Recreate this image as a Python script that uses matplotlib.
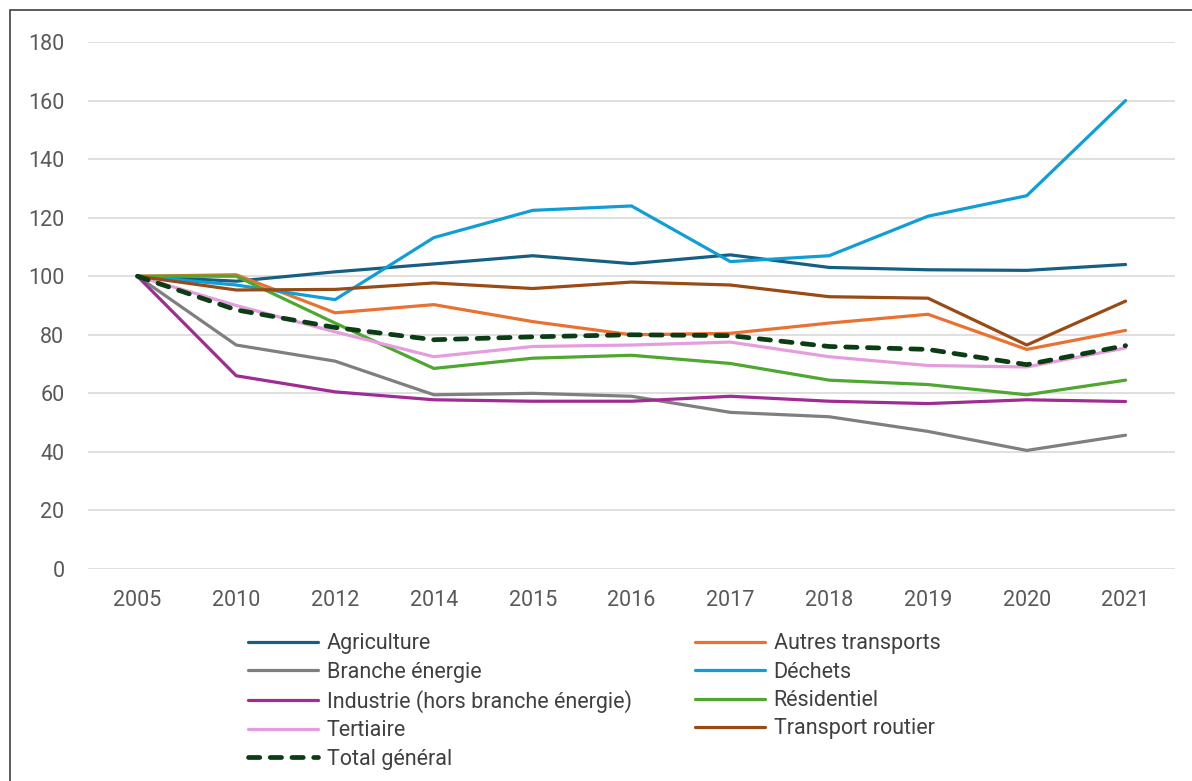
import matplotlib
matplotlib.use("Agg")
import matplotlib.pyplot as plt
from matplotlib.patches import Rectangle

years = ["2005", "2010", "2012", "2014", "2015", "2016", "2017", "2018", "2019", "2020", "2021"]

agriculture = [100, 98.3, 101.5, 104.2, 107.0, 104.3, 107.3, 103.0, 102.2, 102.0, 104.0]
autres_transports = [100, 100.5, 87.5, 90.3, 84.5, 80.0, 80.5, 84.0, 87.0, 75.0, 81.5]
branche_energie = [100, 76.5, 71.0, 59.5, 60.0, 59.0, 53.5, 52.0, 47.0, 40.5, 45.7]
dechets = [100, 97.0, 92.0, 113.2, 122.5, 124.0, 105.0, 107.0, 120.5, 127.5, 160.0]
industrie = [100, 66.0, 60.5, 57.8, 57.3, 57.3, 59.0, 57.3, 56.5, 57.8, 57.2]
residentiel = [100, 100.0, 84.0, 68.5, 72.0, 73.0, 70.2, 64.5, 63.0, 59.5, 64.5]
tertiaire = [100, 90.0, 81.0, 72.5, 76.0, 76.5, 77.5, 72.5, 69.5, 69.0, 75.5]
transport_routier = [100, 95.3, 95.5, 97.7, 95.8, 98.0, 97.0, 93.0, 92.5, 76.5, 91.5]
total = [100, 88.5, 82.5, 78.3, 79.3, 80.0, 79.7, 76.0, 75.0, 69.8, 76.3]

names = ["Agriculture", "Autres transports", "Branche énergie", "Déchets",
         "Industrie (hors branche énergie)", "Résidentiel", "Tertiaire",
         "Transport routier", "Total général"]
series = [agriculture, autres_transports, branche_energie, dechets, industrie,
          residentiel, tertiaire, transport_routier, total]
colors = ["#156082", "#E97132", "#7F7F7F", "#0F9ED5", "#A02B93", "#4EA72E",
          "#E59EDD", "#9A4A14", "#0B3D14"]

plt.rcParams['font.family'] = ['Roboto', 'DejaVu Sans']

W, H = 1192, 781
fig = plt.figure(figsize=(W / 100, H / 100), dpi=100)
ax = fig.add_axes([88 / W, 1 - 569 / H, (1175 - 88) / W, (569 - 42) / H])

x = list(range(len(years)))
handles = []
for name, vals, c in zip(names, series, colors):
    if name == "Total général":
        ln, = ax.plot(x, vals, color=c, lw=3.4, linestyle=(0, (2.4, 2.2)),
                      dash_capstyle='round', dash_joinstyle='round',
                      label=name, zorder=5)
    else:
        ln, = ax.plot(x, vals, color=c, lw=2.3, solid_joinstyle='round',
                      solid_capstyle='round', label=name, zorder=3)
    handles.append(ln)

ax.set_xlim(-0.5, len(years) - 0.5)
ax.set_ylim(0, 180)
ax.set_yticks(range(0, 181, 20))
ax.set_xticks(x)
ax.set_xticklabels(years)
ax.grid(axis='y', color='#D9D9D9', lw=1.2)
ax.set_axisbelow(True)
for s in ax.spines.values():
    s.set_visible(False)
ax.tick_params(axis='both', length=0, labelsize=15.5, colors='#595959')
ax.tick_params(axis='x', pad=15)
ax.tick_params(axis='y', pad=17)

legfont = ['Roboto', 'DejaVu Sans']
col1 = [handles[i] for i in (0, 2, 4, 6, 8)]
col2 = [handles[i] for i in (1, 3, 5, 7)]
kw = dict(frameon=False, borderpad=0, borderaxespad=0, handlelength=3.25,
          handletextpad=0.4, labelspacing=0.34,
          prop={'family': legfont, 'size': 15.5},
          labelcolor='#404040', loc='upper left')
l1 = fig.legend(col1, [h.get_label() for h in col1],
                bbox_to_anchor=(248 / W, 1 - 633.5 / H), **kw)
l2 = fig.legend(col2, [h.get_label() for h in col2],
                bbox_to_anchor=(695 / W, 1 - 633.5 / H), **kw)

fig.patches.append(Rectangle((10 / W, -0.01), 1.02, 1 - 10 / H + 0.01,
                             transform=fig.transFigure, fill=False,
                             edgecolor='#404040', lw=1.2))

fig.savefig("out.png", dpi=100, facecolor='white')
